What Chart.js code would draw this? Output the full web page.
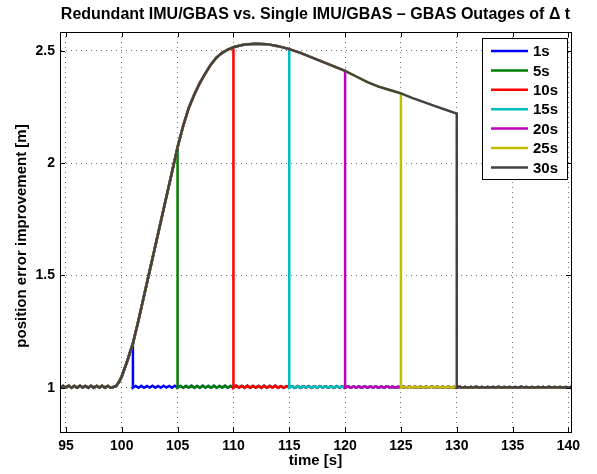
<!DOCTYPE html>
<html>
<head>
<meta charset="utf-8">
<script src="https://cdn.jsdelivr.net/npm/chart.js@4.4.0/dist/chart.umd.min.js"></script>
<style>
  html, body { margin: 0; padding: 0; background: #fff; }
</style>
</head>
<body>
<canvas id="grafico" width="597" height="474"></canvas>
<script>
// outage lengths (s) and their colours
const outages = [1, 5, 10, 15, 20, 25, 30]
const cores = ['#0000ff', '#008000', '#ff0000', '#00bfbf', '#bf00bf', '#bfbf00', '#444240']

// tick labels
const xTicks = [95, 100, 105, 110, 115, 120, 125, 130, 135, 140]
const yTicks = [1, 1.5, 2, 2.5]

// common error curve while GBAS is out (time [s], improvement [m])
const riseTime = [99.25, 99.5, 99.75, 100, 100.25, 100.5, 100.75, 101, 101.5, 102, 102.5, 103, 103.5, 104,
  104.5, 105, 105.5, 106, 106.5, 107, 107.5, 108, 108.5, 109, 109.5, 110, 110.5, 111, 112, 113, 114,
  115, 116, 117, 118, 119, 120, 121, 122, 123, 124, 125, 126, 127, 128, 129, 130]
const riseValue = [1.003, 1.008, 1.025, 1.05, 1.085, 1.12, 1.16, 1.197, 1.30, 1.41, 1.52, 1.63, 1.74, 1.85,
  1.96, 2.07, 2.165, 2.245, 2.305, 2.357, 2.40, 2.44, 2.47, 2.49, 2.505, 2.515, 2.522, 2.527, 2.531, 2.529, 2.52,
  2.507, 2.49, 2.47, 2.45, 2.43, 2.41, 2.385, 2.36, 2.34, 2.325, 2.31, 2.29, 2.272, 2.254, 2.237, 2.22]

// small ripple around 1 m when GBAS is available, sampled every 0.25 s from 94.5 s (in 1/1000 m)
const groundStart = 94.5
const groundStep = 0.25
const groundMilli = [
  0,8,1,9,0,8,0,9,1,8,0,9,0,8,1,9,0,8,0,8,
  1,9,0,8,0,9,1,8,0,9,0,8,1,9,0,8,0,9,1,8,
  0,9,1,8,0,8,1,9,0,8,0,9,1,8,0,9,0,8,1,9,
  0,8,0,9,1,8,0,9,0,8,1,8,0,9,0,8,1,9,0,7,
  0,7,1,6,0,7,0,6,1,7,0,6,0,7,1,6,0,6,0,7,
  1,5,0,6,0,5,1,5,0,6,0,5,1,5,0,5,0,6,1,4,
  0,4,1,4,0,5,0,4,1,4,0,4,0,5,1,4,0,4,0,4,
  0,3,1,4,0,3,0,3,1,4,0,3,0,3,1,3,0,4,0,3,
  1,3,0,3,0,4,1,3,0,3,0,3,1,3,0,4,0,3,1,3,
  0,3,0,3
]

const fonte = 'Liberation Sans, Arial, Helvetica, sans-serif'

const montarSerie = (dt) => {
  const fim = 100 + dt
  const pts = []
  groundMilli.forEach((m, i) => {
    const t = groundStart + i * groundStep
    if (t < riseTime[0]) pts.push({x: t, y: 1 + m / 1000})
  })
  riseTime.forEach((t, i) => {
    if (t <= fim) pts.push({x: t, y: riseValue[i]})
  })
  pts.push({x: fim, y: 1})
  groundMilli.forEach((m, i) => {
    const t = groundStart + i * groundStep
    if (t > fim) pts.push({x: t, y: 1 + m / 1000})
  })
  return pts
}

const datasets = outages.map((dt, i) => ({
  label: dt + 's',
  data: montarSerie(dt),
  borderColor: cores[i],
  backgroundColor: cores[i],
  borderWidth: 2.5,
  pointRadius: 0,
  tension: 0,
  fill: false,
  order: outages.length - i
}))

// frame, inside ticks, title, axis titles and legend like the MATLAB figure
const moldura = {
  id: 'moldura',
  afterDraw(chart) {
    const c = chart.ctx
    const a = chart.chartArea
    const sx = chart.scales.x
    const sy = chart.scales.y
    c.save()
    c.strokeStyle = '#000'
    c.lineWidth = 1
    c.strokeRect(Math.round(a.left) + 0.5, Math.round(a.top) + 0.5, Math.round(a.right - a.left), Math.round(a.bottom - a.top))
    c.beginPath()
    xTicks.forEach(v => {
      const px = Math.round(sx.getPixelForValue(v)) + 0.5
      c.moveTo(px, a.top); c.lineTo(px, a.top + 5)
      c.moveTo(px, a.bottom); c.lineTo(px, a.bottom - 5)
    })
    yTicks.forEach(v => {
      const py = Math.round(sy.getPixelForValue(v)) + 0.5
      c.moveTo(a.left, py); c.lineTo(a.left + 5, py)
      c.moveTo(a.right, py); c.lineTo(a.right - 5, py)
    })
    c.stroke()

    c.fillStyle = '#000'
    c.textAlign = 'center'
    c.textBaseline = 'middle'
    const cx = (a.left + a.right) / 2
    c.font = 'bold 16px ' + fonte
    c.fillText('Redundant IMU/GBAS vs. Single IMU/GBAS \u2013 GBAS Outages of \u0394 t', cx, 15)
    c.font = 'bold 15px ' + fonte
    c.fillText('time [s]', cx, 461)
    c.save()
    c.translate(22, (a.top + a.bottom) / 2 + 4)
    c.rotate(-Math.PI / 2)
    c.fillText('position error improvement [m]', 0, 0)
    c.restore()

    // legend box
    const lx = 482, ly = 38, lw = 85, lh = 141
    c.fillStyle = '#fff'
    c.fillRect(lx, ly, lw, lh)
    c.strokeStyle = '#000'
    c.lineWidth = 1
    c.strokeRect(lx + 0.5, ly + 0.5, lw, lh)
    c.textAlign = 'left'
    outages.forEach((dt, i) => {
      const y = 51 + i * 19.4
      c.strokeStyle = cores[i]
      c.lineWidth = 2.5
      c.beginPath()
      c.moveTo(491, y); c.lineTo(528, y)
      c.stroke()
      c.fillStyle = '#000'
      c.fillText(dt + 's', 533, y + 1)
    })
    c.restore()
  }
}

const grafico = new Chart(document.getElementById('grafico'), {
  type: 'line',
  data: { datasets: datasets },
  plugins: [moldura],
  options: {
    responsive: false,
    animation: false,
    layout: { padding: { top: 32, right: 26, left: 0, bottom: 0 } },
    plugins: {
      legend: { display: false },
      title: { display: false },
      tooltip: { enabled: false }
    },
    scales: {
      x: {
        type: 'linear',
        min: 94.47,
        max: 140.23,
        afterBuildTicks: s => { s.ticks = xTicks.map(v => ({value: v})) },
        afterFit: s => { s.height = 42 },
        ticks: { color: '#000', font: { family: fonte, size: 14, weight: 'bold' }, padding: 6, maxRotation: 0 },
        grid: { color: 'rgba(0,0,0,0.55)', drawTicks: false, lineWidth: 1 },
        border: { display: true, color: '#000', dash: [1, 4] }
      },
      y: {
        type: 'linear',
        min: 0.803,
        max: 2.583,
        afterBuildTicks: s => { s.ticks = yTicks.map(v => ({value: v})) },
        afterFit: s => { s.width = 60 },
        ticks: { color: '#000', font: { family: fonte, size: 14, weight: 'bold' }, padding: 5, callback: v => String(v) },
        grid: { color: 'rgba(0,0,0,0.55)', drawTicks: false, lineWidth: 1 },
        border: { display: true, color: '#000', dash: [1, 4] }
      }
    }
  }
})
</script>
</body>
</html>
